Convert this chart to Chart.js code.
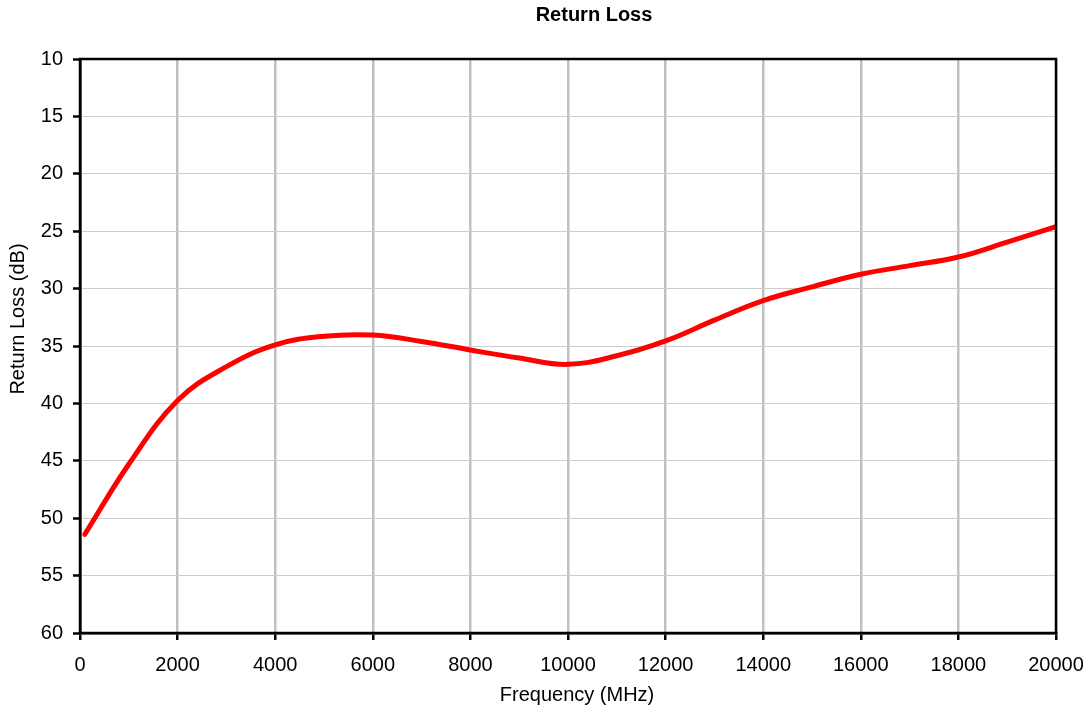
<!DOCTYPE html>
<html>
<head>
<meta charset="utf-8">
<script src="https://cdn.jsdelivr.net/npm/chart.js@4"></script>
<style>
  html, body { margin: 0; padding: 0; background: #fff; }
  canvas { display: block; }
</style>
</head>
<body>
<canvas id="rlChart" width="1091" height="715"></canvas>
<script>
// frequency points (MHz) and return loss (dB)
const frequencies = [100, 1000, 2000, 3000, 4000, 5000, 6000, 7000, 8000, 9000, 10000,
  11000, 12000, 13000, 14000, 15000, 16000, 17000, 18000, 19000, 20000];
const returnLoss = [51.4, 45.3, 39.75, 36.8, 34.9, 34.15, 34.05, 34.6, 35.35, 36.05, 36.6,
  35.85, 34.56, 32.75, 31.05, 29.85, 28.75, 28.0, 27.25, 25.95, 24.6];

const chartTitle = "Return Loss";
const xTitle = "Frequency (MHz)";
const yTitle = "Return Loss (dB)";

const FONT = "'Liberation Sans', Arial, sans-serif";

// titles + frame around the plot, drawn like the original excel chart
const frameAndTitles = {
  id: "frameAndTitles",
  afterDraw(chart) {
    const { ctx, chartArea } = chart;
    ctx.save();
    ctx.strokeStyle = "#000";
    ctx.lineWidth = 2.5;
    ctx.strokeRect(chartArea.left, chartArea.top,
      chartArea.right - chartArea.left, chartArea.bottom - chartArea.top);

    ctx.fillStyle = "#000";
    ctx.textAlign = "center";
    ctx.textBaseline = "middle";
    ctx.font = "bold 20px " + FONT;
    ctx.fillText(chartTitle, 594, 15);

    ctx.font = "20px " + FONT;
    ctx.fillText(xTitle, 577, 695);

    ctx.translate(18, 319);
    ctx.rotate(-Math.PI / 2);
    ctx.fillText(yTitle, 0, 0);
    ctx.restore();
  }
};

const ctx = document.getElementById("rlChart").getContext("2d");
const chart = new Chart(ctx, {
  type: "line",
  data: {
    datasets: [{
      label: chartTitle,
      data: frequencies.map((f, i) => ({ x: f, y: returnLoss[i] })),
      borderColor: "#ff0000",
      borderWidth: 5,
      pointRadius: 0,
      tension: 0.4,
      borderCapStyle: "round",
      fill: false
    }]
  },
  options: {
    responsive: false,
    animation: false,
    layout: { padding: { top: 59, right: 35, left: 0, bottom: 0 } },
    plugins: {
      legend: { display: false },
      title: { display: false },
      tooltip: { enabled: false }
    },
    scales: {
      x: {
        type: "linear",
        min: 0,
        max: 20000,
        afterFit: s => { s.height = 82; s.paddingLeft = 0; s.paddingRight = 0; },
        ticks: {
          stepSize: 2000,
          color: "#000",
          padding: 13,
          maxRotation: 0,
          font: { family: FONT, size: 20 },
          callback: v => String(v)
        },
        grid: {
          color: "#c0c0c0",
          lineWidth: 2.5,
          tickColor: "#000",
          tickWidth: 2.5,
          tickLength: 7
        },
        border: { color: "#000", width: 2.5 }
      },
      y: {
        reverse: true,
        min: 10,
        max: 60,
        afterFit: s => { s.width = 80; s.paddingTop = 0; s.paddingBottom = 0; },
        ticks: {
          stepSize: 5,
          color: "#000",
          padding: 10,
          font: { family: FONT, size: 20 }
        },
        grid: {
          color: "#cccccc",
          lineWidth: 1,
          tickColor: "#000",
          tickWidth: 2.5,
          tickLength: 7
        },
        border: { color: "#000", width: 2.5 }
      }
    }
  },
  plugins: [frameAndTitles]
});
</script>
</body>
</html>
